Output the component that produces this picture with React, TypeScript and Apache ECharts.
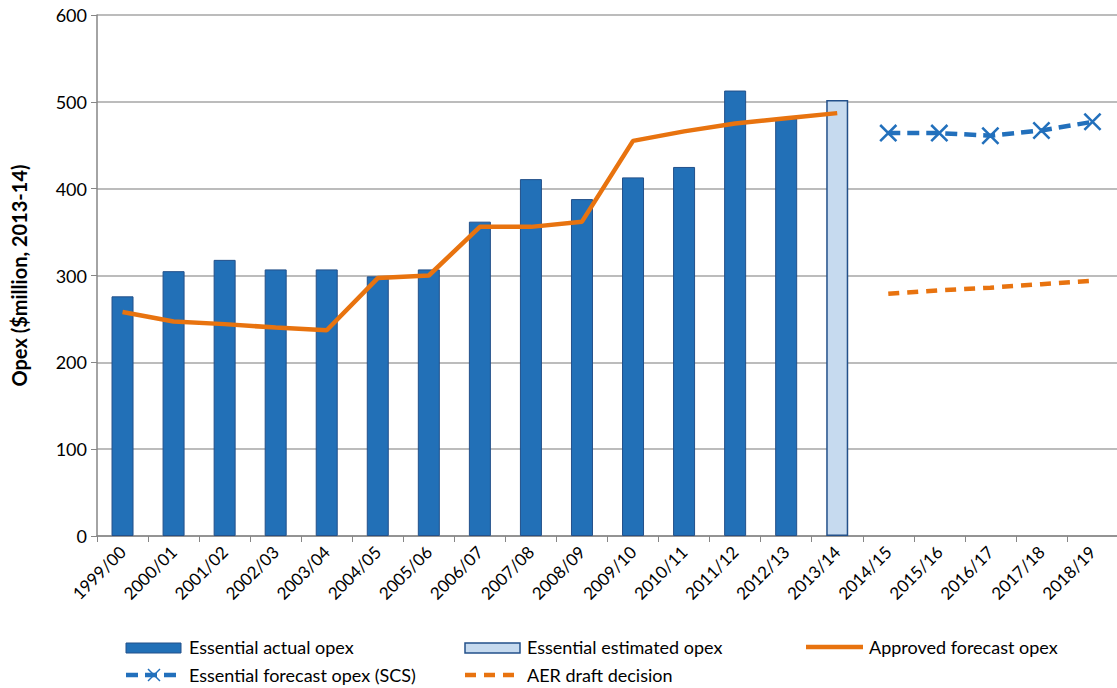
import React, { useEffect, useRef } from "react";
import * as echarts from "echarts";

const categories = [
  "1999/00", "2000/01", "2001/02", "2002/03", "2003/04", "2004/05", "2005/06",
  "2006/07", "2007/08", "2008/09", "2009/10", "2010/11", "2011/12", "2012/13",
  "2013/14", "2014/15", "2015/16", "2016/17", "2017/18", "2018/19",
];
const actualOpex = [276, 305, 318, 307, 307, 299, 307, 362, 411, 388, 413, 425, 513, 481, null, null, null, null, null, null];
const estimatedOpex = [null, null, null, null, null, null, null, null, null, null, null, null, null, null, 502, null, null, null, null, null];
const approvedForecast = [258, 247, 244, 240, 237, 297, 300, 356, 356, 362, 455, 466, 475, 481, 487, null, null, null, null, null];
const scsForecast = [null, null, null, null, null, null, null, null, null, null, null, null, null, null, null, 464, 464, 461, 467, 477];
const aerDraft = [null, null, null, null, null, null, null, null, null, null, null, null, null, null, null, 279, 283, 286, 290, 294];
const yTicks = { min: 0, max: 600, interval: 100 };

const BLUE = "#2270B7";
const BLUE_BORDER = "#23508A";
const LIGHT = "#C6DAEF";
const ORANGE = "#E8730F";
const LINE_BLUE = "#2270BC";
const FONT = "Lato";

const X_PATH = "path://M0,1L1,0L10,9L9,10Z M9,0L10,1L1,10L0,9Z";

export default function App() {
  const ref = useRef<HTMLDivElement>(null);
  useEffect(() => {
    if (!ref.current) return;
    const chart = echarts.init(ref.current, null, { renderer: "svg" });
    const textStyle = { fontFamily: FONT, fontSize: 18, fill: "#000" };
    chart.setOption({
      animation: false,
      textStyle: { fontFamily: FONT },
      grid: { left: 97, right: -1, top: 15, bottom: 152, containLabel: false, outerBoundsMode: "none" },
      xAxis: {
        type: "category",
        data: categories,
        boundaryGap: true,
        axisLine: { lineStyle: { color: "#868686", width: 1.5 } },
        axisTick: { show: true, length: 6, interval: 0, lineStyle: { color: "#868686" } },
        axisLabel: { interval: 0, rotate: 45, fontSize: 17, color: "#000", fontFamily: FONT, margin: 13 },
      },
      yAxis: {
        type: "value",
        min: yTicks.min,
        max: yTicks.max,
        interval: yTicks.interval,
        name: "Opex ($million, 2013-14)",
        nameLocation: "middle",
        nameRotate: 90,
        nameGap: 68,
        nameTextStyle: { fontSize: 20, fontWeight: "bold", color: "#000", fontFamily: FONT },
        axisLine: { show: true, lineStyle: { color: "#868686", width: 1.5 } },
        axisTick: { show: true, length: 6, lineStyle: { color: "#868686" } },
        axisLabel: { fontSize: 18, color: "#000", fontFamily: FONT, margin: 10 },
        splitLine: { lineStyle: { color: "#A6A6A6", width: 1.5 } },
      },
      series: [
        {
          name: "Essential actual opex",
          type: "bar",
          data: actualOpex,
          barWidth: 22,
          barGap: "-100%",
          itemStyle: { color: BLUE, borderColor: BLUE_BORDER, borderWidth: 1 },
        },
        {
          name: "Essential estimated opex",
          type: "bar",
          data: estimatedOpex,
          barWidth: 22,
          barGap: "-100%",
          itemStyle: { color: LIGHT, borderColor: BLUE_BORDER, borderWidth: 1.5 },
        },
        {
          name: "Approved forecast opex",
          type: "line",
          data: approvedForecast,
          symbol: "none",
          lineStyle: { color: ORANGE, width: 4.5 },
          z: 5,
        },
        {
          name: "Essential forecast opex (SCS)",
          type: "line",
          data: scsForecast,
          symbol: X_PATH,
          symbolSize: 18,
          itemStyle: { color: LINE_BLUE },
          lineStyle: { color: LINE_BLUE, width: 4.5, type: [12, 7] },
          z: 5,
        },
        {
          name: "AER draft decision",
          type: "line",
          data: aerDraft,
          symbol: "none",
          lineStyle: { color: ORANGE, width: 4.5, type: [11, 8] },
          z: 5,
        },
      ],
      graphic: [
        { type: "rect", shape: { x: 126, y: 643, width: 55, height: 10 }, style: { fill: BLUE, stroke: BLUE_BORDER, lineWidth: 1 } },
        { type: "text", x: 189, y: 647, style: { ...textStyle, text: "Essential actual opex", verticalAlign: "middle" } },
        { type: "rect", shape: { x: 465, y: 643, width: 55, height: 10 }, style: { fill: LIGHT, stroke: BLUE_BORDER, lineWidth: 1.5 } },
        { type: "text", x: 527, y: 647, style: { ...textStyle, text: "Essential estimated opex", verticalAlign: "middle" } },
        { type: "line", shape: { x1: 806, y1: 647, x2: 863, y2: 647 }, style: { stroke: ORANGE, lineWidth: 4.5 } },
        { type: "text", x: 869, y: 647, style: { ...textStyle, text: "Approved forecast opex", verticalAlign: "middle" } },
        { type: "line", shape: { x1: 126, y1: 675, x2: 182, y2: 675 }, style: { stroke: LINE_BLUE, lineWidth: 4.5, lineDash: [12, 7] } },
        { type: "line", shape: { x1: 148, y1: 669, x2: 160, y2: 681 }, style: { stroke: LINE_BLUE, lineWidth: 1.5 } },
        { type: "line", shape: { x1: 160, y1: 669, x2: 148, y2: 681 }, style: { stroke: LINE_BLUE, lineWidth: 1.5 } },
        { type: "text", x: 189, y: 675, style: { ...textStyle, text: "Essential forecast opex (SCS)", verticalAlign: "middle" } },
        { type: "line", shape: { x1: 465, y1: 675, x2: 521, y2: 675 }, style: { stroke: ORANGE, lineWidth: 4.5, lineDash: [11, 8] } },
        { type: "text", x: 527, y: 675, style: { ...textStyle, text: "AER draft decision", verticalAlign: "middle" } },
      ],
    });
    return () => chart.dispose();
  }, []);
  return (
    <div
      ref={ref}
      style={{ position: "fixed", left: 0, top: 0, width: 1117, height: 688, background: "#fff" }}
    />
  );
}
